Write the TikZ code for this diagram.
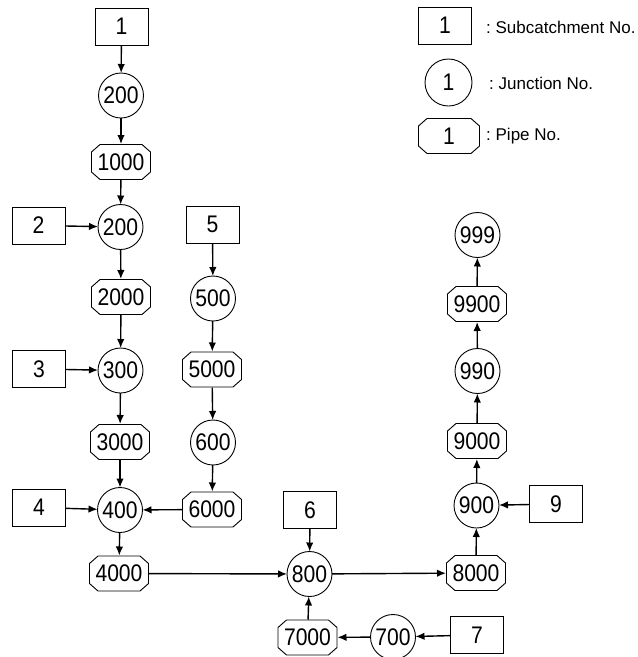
\documentclass[tikz,border=0pt]{standalone}
\usepackage{fontspec}
\setmainfont{Liberation Sans}
\newfontfamily\numfont[FakeStretch=0.88]{Liberation Sans}
\usetikzlibrary{arrows.meta}

\tikzset{
  subcat/.style={draw, rectangle, line width=0.9pt, minimum width=53pt, minimum height=37pt, inner sep=0pt, outer sep=0pt, font=\numfont\fontsize{24}{24}\selectfont},
  junc/.style={draw, circle, line width=0.9pt, minimum size=45pt, inner sep=0pt, outer sep=0pt, font=\numfont\fontsize{24}{24}\selectfont},
  pipe/.style={rectangle, minimum width=60pt, minimum height=36pt, inner sep=0pt, outer sep=0pt, font=\numfont\fontsize{24}{24}\selectfont,
    path picture={
      \draw[line width=0.9pt]
        ([shift={(9pt,-0.5pt)}]path picture bounding box.north west)
        -- ([shift={(-9pt,-0.5pt)}]path picture bounding box.north east)
        -- ([shift={(-0.5pt,-8pt)}]path picture bounding box.north east)
        -- ([shift={(-0.5pt,8pt)}]path picture bounding box.south east)
        -- ([shift={(-9pt,0.5pt)}]path picture bounding box.south east)
        -- ([shift={(9pt,0.5pt)}]path picture bounding box.south west)
        -- ([shift={(0.5pt,8pt)}]path picture bounding box.south west)
        -- ([shift={(0.5pt,-8pt)}]path picture bounding box.north west)
        -- cycle;
    }},
  flow/.style={line width=1.4pt, -{Latex[length=9pt,width=7.5pt]}},
  legtext/.style={anchor=west, inner sep=0pt, font=\fontsize{17}{17}\selectfont}
}

\begin{document}
\begin{tikzpicture}[x=1pt, y=-1pt]

        \useasboundingbox (0,0) rectangle (638,657);

        % Legend
        \node[subcat] (legS) at (445,25.5) {1};
        \node[legtext] (legStext) at (486,27) {:\ Subcatchment No.};
        \node[junc, minimum size=47pt] (legJ) at (448.5,82.5) {1};
        \node[legtext] (legJtext) at (489,83) {:\ Junction No.};
        \node[pipe, minimum width=62pt] (legP) at (449,136) {1};
        \node[legtext] (legPtext) at (486,136) {:\ Pipe No.};

        % Main trunk (left column)
        \node[subcat] (s1) at (121.5,26.5) {1};
        \node[junc] (j200a) at (121,95.5) {200};
        \node[pipe] (p1000) at (121,162) {1000};
        \node[subcat] (s2) at (38.5,225.5) {2};
        \node[junc] (j200b) at (120.5,227) {200};
        \node[pipe] (p2000) at (121,297) {2000};
        \node[subcat] (s3) at (39,369) {3};
        \node[junc] (j300) at (120.5,370.5) {300};
        \node[pipe] (p3000) at (120,442) {3000};
        \node[subcat] (s4) at (39,507.5) {4};
        \node[junc] (j400) at (120,510) {400};
        \node[pipe] (p4000) at (119,573.5) {4000};

        % Branch from subcatchment 5
        \node[subcat] (s5) at (212.5,224.5) {5};
        \node[junc] (j500) at (213,298.5) {500};
        \node[pipe] (p5000) at (212,369.5) {5000};
        \node[junc] (j600) at (213,442.5) {600};
        \node[pipe] (p6000) at (212,509.5) {6000};

        % Junction 800 and its inflows
        \node[subcat] (s6) at (310,510) {6};
        \node[junc] (j800) at (309.5,574) {800};
        \node[pipe] (p7000) at (307.5,637.5) {7000};
        \node[junc] (j700) at (393,637) {700};
        \node[subcat] (s7) at (477,635) {7};

        % Outlet column (right)
        \node[pipe] (p8000) at (476,573) {8000};
        \node[junc] (j900) at (476.5,505.5) {900};
        \node[subcat] (s9) at (556,504) {9};
        \node[pipe] (p9000) at (477,441) {9000};
        \node[junc] (j990) at (477.5,371) {990};
        \node[pipe] (p9900) at (477,304) {9900};
        \node[junc] (j999) at (477.5,235) {999};

        % Flow arrows
        \draw[flow] (s1) -- (j200a);
        \draw[flow] (j200a) -- (p1000);
        \draw[flow] (p1000) -- (j200b);
        \draw[flow] (s2) -- (j200b);
        \draw[flow] (j200b) -- (p2000);
        \draw[flow] (p2000) -- (j300);
        \draw[flow] (s3) -- (j300);
        \draw[flow] (j300) -- (p3000);
        \draw[flow] (p3000) -- (j400);
        \draw[flow] (s4) -- (j400);
        \draw[flow] (j400) -- (p4000);
        \draw[flow] (s5) -- (j500);
        \draw[flow] (j500) -- (p5000);
        \draw[flow] (p5000) -- (j600);
        \draw[flow] (j600) -- (p6000);
        \draw[flow] (p6000) -- (j400);
        \draw[flow] (p4000) -- (j800);
        \draw[flow] (s6) -- (j800);
        \draw[flow] (s7) -- (j700);
        \draw[flow] (j700) -- (p7000);
        \draw[flow] (p7000) -- (j800);
        \draw[flow] (j800) -- (p8000);
        \draw[flow] (p8000) -- (j900);
        \draw[flow] (s9) -- (j900);
        \draw[flow] (j900) -- (p9000);
        \draw[flow] (p9000) -- (j990);
        \draw[flow] (j990) -- (p9900);
        \draw[flow] (p9900) -- (j999);

\end{tikzpicture}
\end{document}
